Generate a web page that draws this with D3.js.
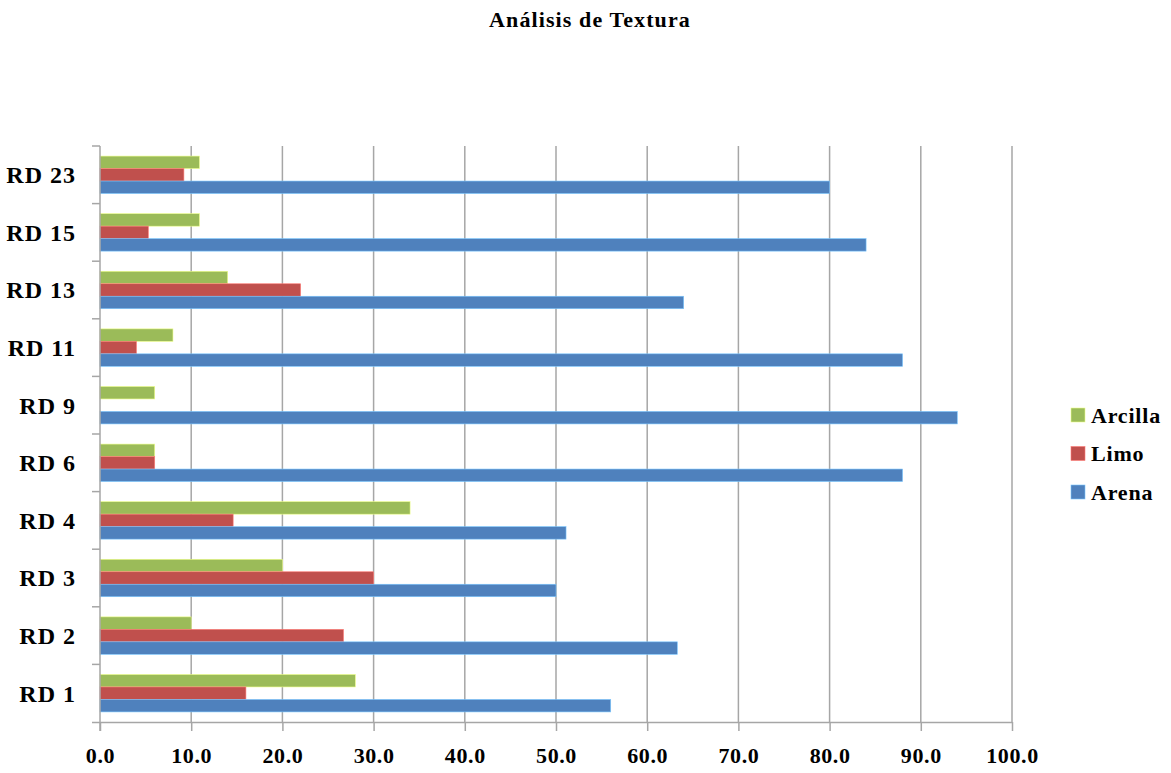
<!DOCTYPE html>
<meta charset="utf-8">
<html>
<head>
    <script src="https://d3js.org/d3.v7.min.js"></script>
    <style>
        body { margin: 0; background: #fff; }
        text { font-family: "Liberation Serif", "Times New Roman", serif; font-weight: bold; fill: #000; }
    </style>
</head>
<body>
    <div id="chart"></div>
    <script>
        // data
        var categories = ["RD 1", "RD 2", "RD 3", "RD 4", "RD 6", "RD 9", "RD 11", "RD 13", "RD 15", "RD 23"];
        var arena   = [56, 63.3, 50, 51.1, 88, 94, 88, 64, 84, 80];
        var limo    = [16, 26.7, 30, 14.6, 6, 0, 4, 22, 5.3, 9.2];
        var arcilla = [28, 10, 20, 34, 6, 6, 8, 14, 10.9, 10.9];
        var xTicks = [0, 10, 20, 30, 40, 50, 60, 70, 80, 90, 100];

        var series = [
            { name: "Arcilla", values: arcilla, color: "#9BBB59" },
            { name: "Limo", values: limo, color: "#C0504D" },
            { name: "Arena", values: arena, color: "#4F81BD" }
        ];

        var W = 1171, H = 773;
        var margin = { top: 146, right: 159, bottom: 51, left: 100 };
        var width = W - margin.left - margin.right,
            height = H - margin.top - margin.bottom;

        var svg = d3.select("#chart").append("svg")
            .attr("width", W)
            .attr("height", H);

        svg.append("text")
            .attr("x", 590)
            .attr("y", 27)
            .attr("text-anchor", "middle")
            .style("font-size", "22px")
            .style("letter-spacing", "1.1px")
            .text("Análisis de Textura");

        var g = svg.append("g")
            .attr("transform", "translate(" + margin.left + "," + margin.top + ")");

        var x = d3.scaleLinear().domain([0, 100]).range([0, width]);

        // RD 1 at the bottom
        var y = d3.scaleBand().domain(categories.slice().reverse()).range([0, height]).paddingInner(0.35).paddingOuter(0.175);
        var inner = d3.scaleBand().domain(series.map(function (s) { return s.name; })).range([0, y.bandwidth()]);

        // gridlines
        g.append("g")
            .selectAll("line")
            .data(xTicks.slice(1))
            .enter().append("line")
            .attr("x1", function (d) { return x(d); })
            .attr("x2", function (d) { return x(d); })
            .attr("y1", 0)
            .attr("y2", height)
            .attr("stroke", "#A6A6A6")
            .attr("stroke-width", 1.5);

        // bars
        series.forEach(function (s) {
            g.append("g")
                .selectAll("rect")
                .data(categories)
                .enter().append("rect")
                .attr("x", x(0))
                .attr("y", function (d) { return y(d) + inner(s.name); })
                .attr("width", function (d, i) { return x(s.values[i]) - x(0); })
                .attr("height", inner.bandwidth())
                .attr("fill", s.color)
                .attr("stroke", d3.color(s.color).brighter(1.2))
                .attr("stroke-width", 0.6);
        });

        // x axis
        var xAxis = g.append("g")
            .attr("transform", "translate(0," + height + ")")
            .call(d3.axisBottom(x).tickValues(xTicks).tickFormat(d3.format(".1f")).tickSize(9).tickPadding(16).tickSizeOuter(0));
        xAxis.select(".domain").attr("stroke", "#A6A6A6").attr("stroke-width", 1.5)
            .attr("d", "M-8,0.5H" + width);
        xAxis.selectAll(".tick line").attr("stroke", "#A6A6A6").attr("stroke-width", 1.5);
        xAxis.selectAll(".tick text").style("font-size", "22px").style("letter-spacing", "0.6px").attr("fill", "#000");

        // y axis: line with ticks on band boundaries
        var yAxis = g.append("g");
        yAxis.append("line")
            .attr("x1", 0).attr("x2", 0)
            .attr("y1", 0).attr("y2", height + 9)
            .attr("stroke", "#A6A6A6").attr("stroke-width", 1.5);
        yAxis.selectAll(".ytick")
            .data(d3.range(categories.length))
            .enter().append("line")
            .attr("x1", -8).attr("x2", 0)
            .attr("y1", function (i) { return i * height / categories.length; })
            .attr("y2", function (i) { return i * height / categories.length; })
            .attr("stroke", "#A6A6A6").attr("stroke-width", 1.5);
        yAxis.selectAll(".ylabel")
            .data(categories)
            .enter().append("text")
            .attr("x", -24)
            .attr("y", function (d) { return y(d) + y.bandwidth() / 2; })
            .attr("dy", "0.35em")
            .attr("text-anchor", "end")
            .style("font-size", "24px")
            .style("letter-spacing", "1px")
            .text(function (d) { return d; });

        // legend
        var legend = svg.append("g").attr("transform", "translate(1071,408)");
        series.forEach(function (s, i) {
            var row = legend.append("g").attr("transform", "translate(0," + (i * 38.5) + ")");
            row.append("rect").attr("width", 14).attr("height", 14).attr("fill", s.color)
                .attr("stroke", d3.color(s.color).brighter(1.2)).attr("stroke-width", 0.6);
            row.append("text").attr("x", 20).attr("y", 7).attr("dy", "0.35em")
                .style("font-size", "22px").style("letter-spacing", "0.8px").text(s.name);
        });
    </script>
</body>
</html>
